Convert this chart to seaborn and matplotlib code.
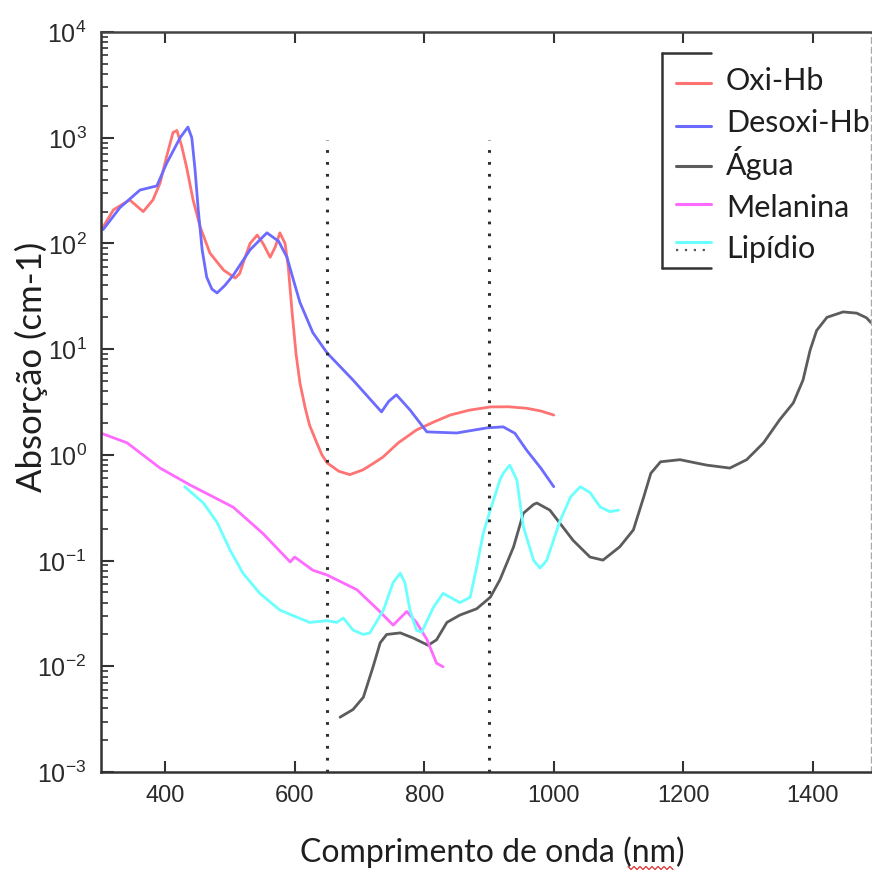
import numpy as np
import pandas as pd
import matplotlib
matplotlib.use("Agg")
import matplotlib.pyplot as plt
from matplotlib.lines import Line2D
from matplotlib.ticker import LogLocator, NullFormatter
import seaborn as sns

# ---------------- data (wavelength in nm, absorption in cm-1) ----------------
oxi_nm = [300, 304, 320, 345, 366, 381, 392, 402, 412, 418, 425, 433, 443, 454, 469,
          490, 508, 515, 522, 531, 542, 551, 562, 570, 577, 585, 590, 596, 602, 608,
          616, 623, 634, 642, 650, 668, 685, 705, 720, 736, 760, 788, 815, 840, 870,
          902, 930, 958, 980, 1000]
oxi_val = [140, 143, 208, 258, 200, 258, 372, 660, 1120, 1170, 850, 525, 258, 143, 81,
           56, 47, 52, 70, 100, 120, 100, 74, 93, 126, 100, 60, 22, 9.0, 4.8,
           2.8, 1.9, 1.3, 1.0, 0.84, 0.70, 0.65, 0.72, 0.82, 0.95, 1.3, 1.72, 2.05,
           2.38, 2.65, 2.84, 2.85, 2.76, 2.6, 2.38]

desoxi_nm = [300, 304, 330, 361, 387, 402, 423, 435, 441, 446, 451, 457, 464, 472, 480,
             492, 505, 531, 557, 575, 588, 598, 608, 628, 650, 690, 734, 745, 757, 778,
             804, 850, 897, 922, 940, 958, 980, 1000]
desoxi_val = [140, 135, 218, 320, 350, 570, 1000, 1260, 1000, 500, 207, 87, 48, 37, 34,
              40, 50, 87, 126, 105, 74, 45, 27.7, 14.3, 9.2, 5.1, 2.55, 3.2, 3.7, 2.66,
              1.65, 1.61, 1.8, 1.84, 1.6, 1.11, 0.75, 0.50]

agua_nm = [670, 690, 706, 721, 732, 742, 763, 783, 806, 819, 835, 855, 881, 902, 917,
           938, 953, 969, 974, 994, 1030, 1056, 1076, 1102, 1123, 1139, 1150, 1165,
           1195, 1236, 1272, 1298, 1324, 1349, 1370, 1385, 1396, 1406, 1422, 1447,
           1468, 1483, 1490]
agua_val = [0.0033, 0.0039, 0.0051, 0.0099, 0.0167, 0.020, 0.0207, 0.0185, 0.0158,
            0.0178, 0.026, 0.0305, 0.035, 0.045, 0.066, 0.135, 0.28, 0.34, 0.35,
            0.30, 0.155, 0.108, 0.101, 0.135, 0.195, 0.40, 0.67, 0.86, 0.90, 0.80,
            0.75, 0.90, 1.3, 2.15, 3.1, 5.1, 9.8, 15.0, 20.0, 22.5, 21.9, 19.8, 17.8]

melanina_nm = [300, 341, 392, 438, 505, 551, 593, 600, 628, 650, 696, 727, 752, 773,
               788, 804, 819, 829]
melanina_val = [1.61, 1.3, 0.75, 0.52, 0.32, 0.18, 0.097, 0.108, 0.081, 0.073, 0.053,
                0.035, 0.0245, 0.033, 0.026, 0.018, 0.0107, 0.0099]

lipidio_nm = [430, 459, 480, 500, 520, 546, 577, 604, 623, 650, 665, 675, 690, 706, 716,
              737, 752, 763, 770, 778, 788, 796, 814, 829, 855, 871, 881, 891, 902,
              917, 922, 932, 943, 953, 969, 979, 989, 1010, 1026, 1041, 1056, 1072,
              1087, 1100]
lipidio_val = [0.50, 0.35, 0.23, 0.126, 0.076, 0.049, 0.034, 0.029, 0.026, 0.027,
               0.026, 0.0286, 0.022, 0.020, 0.0207, 0.034, 0.062, 0.076, 0.062, 0.034,
               0.022, 0.021, 0.036, 0.049, 0.040, 0.045, 0.087, 0.18, 0.30, 0.58,
               0.67, 0.80, 0.58, 0.21, 0.10, 0.085, 0.10, 0.24, 0.40, 0.50, 0.44,
               0.32, 0.29, 0.30]

janela_nm = [650, 900]          # optical window limits
janela_topo = 950               # top of the window markers

series_names = ["Oxi-Hb", "Desoxi-Hb", "Água", "Melanina", "Lipídio"]
series_colors = ["#ff7373", "#6b6bff", "#5c5c5c", "#ff6bff", "#6bffff"]

xtick_nm = [400, 600, 800, 1000, 1200, 1400]
ytick_exp = [-3, -2, -1, 0, 1, 2, 3, 4]

# ---------------- style ----------------
sns.set_style("white")
plt.rcParams["font.family"] = ["Lato", "DejaVu Sans"]
plt.rcParams["mathtext.fontset"] = "custom"
plt.rcParams["mathtext.rm"] = "Liberation Sans"
plt.rcParams["mathtext.default"] = "rm"

W, H = 872, 873
fig = plt.figure(figsize=(W / 100, H / 100), dpi=100)
fig.patch.set_facecolor("white")

def fx(px):
    return px / W

def fy(py):
    return 1 - py / H

ax = fig.add_axes([fx(100.5), fy(772), (871 - 100.5) / W, (772 - 32) / H])

series = [(oxi_nm, oxi_val), (desoxi_nm, desoxi_val), (agua_nm, agua_val),
          (melanina_nm, melanina_val), (lipidio_nm, lipidio_val)]
for (xs, ys), name, col in zip(series, series_names, series_colors):
    df = pd.DataFrame({"nm": xs, "abs": ys})
    sns.lineplot(data=df, x="nm", y="abs", ax=ax, color=col, lw=2.0,
                 sort=False, estimator=None)

ax.vlines(janela_nm, 1e-3, janela_topo, colors="#2e2e2e", lw=2.2,
          linestyles=(0, (0.9, 3.0)))

ax.set_yscale("log")
ax.set_xlim(300, 1490)
ax.set_ylim(1e-3, 1e4)

ax.set_xticks(xtick_nm, labels=[str(v) for v in xtick_nm],
              fontfamily="Liberation Sans", fontsize=17, color="#2a2a2a")
ax.set_yticks([10.0 ** e for e in ytick_exp],
              labels=[r"$10^{%d}$" % e for e in ytick_exp],
              fontsize=18, color="#2a2a2a")
ax.yaxis.set_minor_locator(LogLocator(base=10, subs=np.arange(2, 10), numticks=20))
ax.yaxis.set_minor_formatter(NullFormatter())

ax.tick_params(axis="x", which="major", direction="in", length=8, width=1.5,
               color="#333333", top=True, bottom=True, pad=9)
ax.tick_params(axis="x", which="minor", bottom=False, top=False)
ax.tick_params(axis="y", which="major", direction="in", length=9, width=1.5,
               color="#333333", left=True, right=False, pad=10)
ax.tick_params(axis="y", which="minor", direction="in", length=5, width=1.2,
               color="#333333", left=True, right=False)

for side in ["left", "bottom"]:
    ax.spines[side].set(color="#333333", linewidth=1.8)
ax.spines["top"].set(color="#444444", linewidth=1.8)
ax.spines["right"].set(color="#aaaaaa", linewidth=1.0, linestyle=(0, (4, 3)))

ax.set_xlabel("Comprimento de onda (nm)", fontsize=23, color="#1e1e1e")
ax.xaxis.set_label_coords((492 - 100.5) / 770.5, (772 - 836) / 740)
ax.set_ylabel("Absorção (cm-1)", fontsize=25, color="#1e1e1e")
ax.yaxis.set_label_coords((48 - 100.5) / 770.5, (772 - 367) / 740)

# spell-check style underline under the unit
zx = np.arange(628, 674, 3)
zy = np.where(np.arange(len(zx)) % 2 == 0, 866.5, 869.5)
fig.add_artist(Line2D(fx(zx), fy(zy), color="#e03030", lw=0.9))

# ---------------- legend ----------------
box_col = "#333333"
fig.add_artist(Line2D([fx(662), fx(662)], [fy(53), fy(268)], color=box_col, lw=1.8))
fig.add_artist(Line2D([fx(662), fx(711)], [fy(53), fy(53)], color=box_col, lw=1.8))
fig.add_artist(Line2D([fx(662), fx(711)], [fy(268), fy(268)], color=box_col, lw=1.8))

handle_y = [83, 126, 166, 204, 242]
text_base = [90, 132, 175, 217, 258]
for name, col, hy, ty in zip(series_names, series_colors, handle_y, text_base):
    fig.add_artist(Line2D([fx(676), fx(711)], [fy(hy), fy(hy)], color=col, lw=2.2))
    fig.text(fx(726), fy(ty), name, fontsize=22, color="#1e1e1e",
             ha="left", va="baseline")
fig.add_artist(Line2D([fx(676), fx(711)], [fy(250), fy(250)], color="#555555",
                      lw=1.6, linestyle=(0, (1, 3))))

fig.savefig("out.png", dpi=100, facecolor="white")
